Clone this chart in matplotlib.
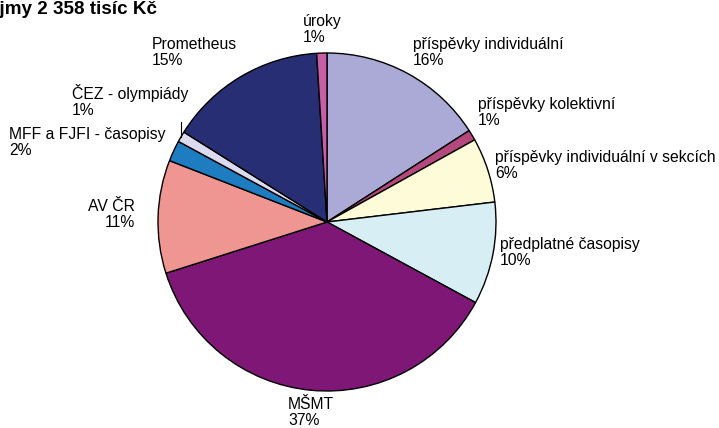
import numpy as np
import matplotlib
matplotlib.use("Agg")
import matplotlib.pyplot as plt

categories = ["příspěvky individuální", "příspěvky kolektivní",
              "příspěvky individuální v sekcích", "předplatné časopisy",
              "MŠMT", "AV ČR", "MFF a FJFI - časopisy", "ČEZ - olympiády",
              "Prometheus", "úroky"]
values = [375, 24, 146, 231, 877, 255, 47, 24, 356, 23]  # tisíc Kč
colors = ["#ABA9D5", "#B5487D", "#FEFBD8", "#D7EEF4", "#7F1776",
          "#EF9592", "#1E7DC0", "#DCDAEE", "#282E74", "#C65FA6"]
title = "Příjmy 2 358 tisíc Kč"

W, H = 719, 428
fig = plt.figure(figsize=(W / 100, H / 100), dpi=100)
plt.rcParams['font.family'] = ['Liberation Sans', 'DejaVu Sans']

cx, cy, r = 327, 222, 169
ax = fig.add_axes([(cx - r) / W, (H - cy - r) / H, 2 * r / W, 2 * r / H])
wedges, _ = ax.pie(values, colors=colors, startangle=90, counterclock=False,
                   radius=1, wedgeprops=dict(edgecolor="black", linewidth=1.0))
ax.set_xlim(-1, 1)
ax.set_ylim(-1, 1)
ax.set_aspect('equal')
ax.axis('off')

total = sum(values)
pct = [f"{round(v / total * 100):d}%" for v in values]

def px(x, y):
    return x / W, 1 - y / H

# label positions (pixels: x, top y, alignment)
pos = {
    "příspěvky individuální": (413, 37, "left"),
    "příspěvky kolektivní": (478, 97, "left"),
    "příspěvky individuální v sekcích": (495, 150, "left"),
    "předplatné časopisy": (500, 237, "left"),
    "MŠMT": (288, 397, "left"),
    "AV ČR": (135, 199, "right"),
    "MFF a FJFI - časopisy": (9, 127, "left"),
    "ČEZ - olympiády": (72, 84, "left"),
    "Prometheus": (152, 37, "left"),
    "úroky": (303, 14, "left"),
}
for c, p in zip(categories, pct):
    x, y, ha = pos[c]
    fx, fy = px(x, y)
    fig.text(fx, fy, f"{c}\n{p}", ha=ha, va="top", fontsize=11.3,
             multialignment=ha, linespacing=1.12, color="black")

# leader line for ČEZ slice
w = wedges[categories.index("ČEZ - olympiády")]
theta = np.deg2rad((w.theta1 + w.theta2) / 2)
x0, y0 = np.cos(theta), np.sin(theta)
ax.plot([x0, x0], [y0, y0 + 15 / r], color="black", linewidth=0.8, clip_on=False)

fig.text(157 / W, 1 - 1 / H, title, ha="right", va="top", fontsize=13.6,
         fontweight="bold")

fig.savefig("out.png", dpi=100)
